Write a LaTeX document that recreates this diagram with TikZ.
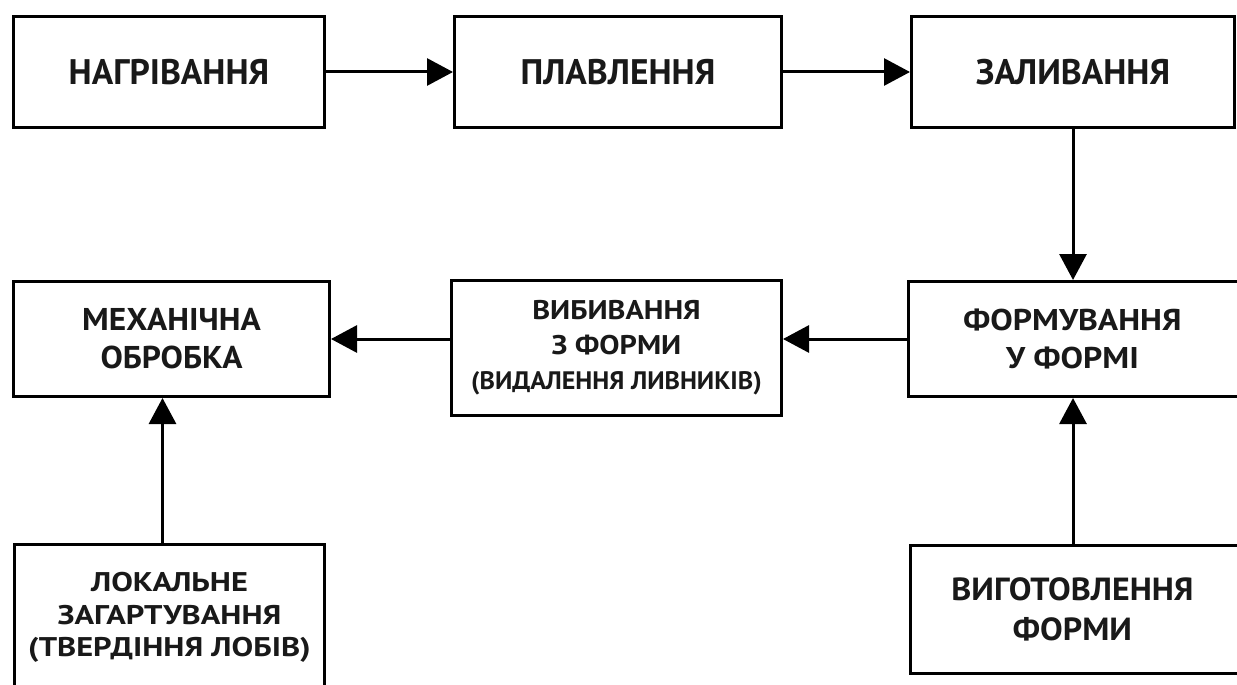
\documentclass[tikz,border=0pt]{standalone}
\usepackage{fontspec}
\setmainfont{PT Sans}
\newfontfamily\fA[FakeStretch=1.06]{PT Sans}
\newfontfamily\fB[FakeStretch=1.12]{PT Sans}
\newfontfamily\fC[FakeStretch=1.2]{PT Sans}
\newfontfamily\fD[FakeStretch=1.03]{PT Sans}
\usetikzlibrary{arrows.meta,calc}
\begin{document}
\begin{tikzpicture}[x=1pt,y=-1pt,
  box/.style={draw=black,line width=3pt,rectangle,inner sep=0pt,anchor=north west,
    align=center,text=black!90},
  big/.style={font=\fontsize{35.5}{40}\selectfont\bfseries},
  arr/.style={line width=3pt,-{Triangle[length=26pt,width=27pt]}}]
\clip (0,0) rectangle (1237,685);
\fill[white] (0,0) rectangle (1237,685);
\node[box,big,minimum width=311pt,minimum height=111pt] (b1) at (12,15) {НАГРІВАННЯ};
\node[box,big,minimum width=327pt,minimum height=111pt] (b2) at (453,15) {ПЛАВЛЕННЯ};
\node[box,big,minimum width=323pt,minimum height=111pt] (b3) at (910,15) {ЗАЛИВАННЯ};
\node[box,font=\fontsize{31.5}{38}\fA\bfseries,minimum width=316pt,minimum height=115pt] (b4) at (12,280) {МЕХАНІЧНА\\ОБРОБКА};
\node[box,font=\fontsize{27}{35}\fB\bfseries,minimum width=330pt,minimum height=135pt] (b5) at (450,279)
  {ВИБИВАННЯ\\З ФОРМИ\\{\fontsize{25.3}{33}\fD\bfseries (ВИДАЛЕННЯ ЛИВНИКІВ)}};
\node[box,font=\fontsize{30}{38}\fB\bfseries,minimum width=338pt,minimum height=115pt] (b6) at (907,280)
  {\hspace*{-10pt}ФОРМУВАННЯ\\\hspace*{-10pt}У ФОРМІ};
\node[box,font=\fontsize{27}{32.5}\fC\bfseries,minimum width=310pt,minimum height=146pt] (b7) at (13,543)
  {ЛОКАЛЬНЕ\\ЗАГАРТУВАННЯ\\(ТВЕРДІННЯ ЛОБІВ)};
\node[box,font=\fontsize{32}{40}\fA\bfseries,minimum width=336pt,minimum height=128pt] (b8) at (909,544)
  {\hspace*{-12pt}ВИГОТОВЛЕННЯ\\\hspace*{-12pt}ФОРМИ};
\draw[arr] (b1.east) -- (b2.west);
\draw[arr] (b2.east) -- (b3.west);
\draw[arr] (b3.south) -- (b3.south |- b6.north);
\draw[arr] (b6.west) -- (b6.west -| b5.east);
\draw[arr] (b5.west |- b4.east) -- (b4.east);
\draw[arr] ([xshift=-7pt]b7.north) -- ([xshift=-7pt]b7.north |- b4.south);
\draw[arr] (b3.south |- b8.north) -- (b3.south |- b6.south);
\end{tikzpicture}
\end{document}
